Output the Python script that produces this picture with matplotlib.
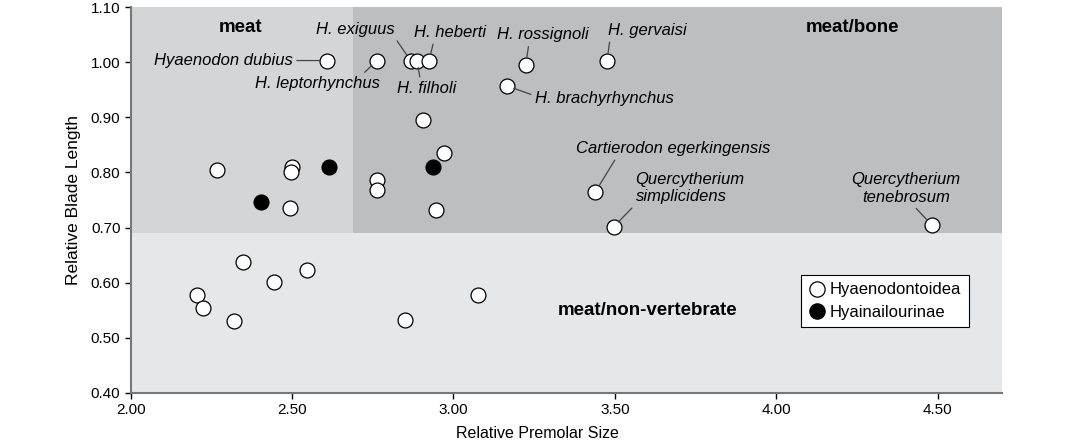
import matplotlib
matplotlib.use("Agg")
import matplotlib.pyplot as plt
from matplotlib.lines import Line2D

plt.rcParams['font.family'] = ['Liberation Sans', 'DejaVu Sans']

# Hyaenodontoidea (open circles)
open_x = [2.607, 2.763, 2.867, 2.887, 2.924, 3.224, 3.476, 3.166, 2.907, 2.971,
          2.763, 2.763, 2.946, 3.440, 3.496, 4.483, 2.268, 2.501, 2.496, 2.494,
          2.206, 2.223, 2.320, 2.347, 2.445, 2.546, 2.851, 3.076]
open_y = [1.003, 1.003, 1.003, 1.003, 1.003, 0.995, 1.003, 0.957, 0.895, 0.835,
          0.786, 0.768, 0.731, 0.765, 0.701, 0.704, 0.805, 0.809, 0.800, 0.735,
          0.578, 0.554, 0.531, 0.637, 0.601, 0.623, 0.533, 0.578]

# Hyainailourinae (filled circles)
filled_x = [2.615, 2.935, 2.404]
filled_y = [0.810, 0.810, 0.746]

# diet zones
premolar_cut = 2.69
blade_cut = 0.69
xlim = (2.0, 4.70)
ylim = (0.40, 1.10)
xticks = [2.0, 2.5, 3.0, 3.5, 4.0, 4.5]
yticks = [0.4, 0.5, 0.6, 0.7, 0.8, 0.9, 1.0, 1.1]

# species labels: text, index into open arrays, offset px (dx, dy), ha, relpos of leader start
labels = [
    ("Hyaenodon dubius", 0, (-34, 0), "right", (1.0, 0.5)),
    ("H. leptorhynchus", 1, (-60, -23), "center", (0.85, 1.0)),
    ("H. exiguus", 2, (-55, 31), "center", (0.98, 0.1)),
    ("H. heberti", 4, (21, 28), "center", (0.28, 0.0)),
    ("H. filholi", 3, (10, -28), "center", (0.39, 1.0)),
    ("H. rossignoli", 5, (17, 30), "center", (0.35, 0.0)),
    ("H. gervaisi", 6, (40, 30), "center", (0.03, 0.0)),
    ("H. brachyrhynchus", 7, (28, -13), "left", (0.0, 0.7)),
    ("Cartierodon egerkingensis", 13, (78, 43), "center", (0.21, 0.0)),
    ("Quercytherium\nsimplicidens", 14, (22, 39), "left", (0.0, 0.0)),
    ("Quercytherium\ntenebrosum", 15, (-26, 37), "center", (0.56, 0.0)),
]

fig = plt.figure(figsize=(10.81, 4.42), dpi=100)
ax = fig.add_axes([0.121, 0.111, 0.806, 0.873])
ax.set_xlim(*xlim)
ax.set_ylim(*ylim)

# shaded zones
ax.fill_between([xlim[0], xlim[1]], ylim[0], blade_cut, color="#e6e7e8", lw=0, zorder=0)
ax.fill_between([xlim[0], premolar_cut], blade_cut, ylim[1], color="#d4d5d7", lw=0, zorder=0)
ax.fill_between([premolar_cut, xlim[1]], blade_cut, ylim[1], color="#bdbec0", lw=0, zorder=0)

ax.scatter(open_x, open_y, s=115, facecolor="white", edgecolor="black", linewidth=0.9, zorder=3)
ax.scatter(filled_x, filled_y, s=115, facecolor="black", edgecolor="black", linewidth=0.9, zorder=3)

for text, i, off, ha, rp in labels:
    ax.annotate(text, xy=(open_x[i], open_y[i]), xytext=off, textcoords="offset pixels",
                ha=ha, va="center", fontsize=12, style="italic", linespacing=1.2,
                arrowprops=dict(arrowstyle="-", color="#444444", lw=0.9, relpos=rp,
                                shrinkA=1, shrinkB=5),
                zorder=4)

ax.text(2.34, 1.063, "meat", ha="center", va="center", fontsize=13.5, fontweight="bold")
ax.text(4.235, 1.063, "meat/bone", ha="center", va="center", fontsize=13.5, fontweight="bold")
ax.text(3.60, 0.55, "meat/non-vertebrate", ha="center", va="center", fontsize=13.5, fontweight="bold")

ax.set_xticks(xticks)
ax.set_xticklabels([f"{v:.2f}" for v in xticks])
ax.set_yticks(yticks)
ax.set_yticklabels([f"{v:.2f}" for v in yticks])
ax.tick_params(labelsize=11, length=4, width=1, color="black", direction="out")

for s in ["top", "right"]:
    ax.spines[s].set_visible(False)
for s in ["left", "bottom"]:
    ax.spines[s].set_color("#777777")
    ax.spines[s].set_linewidth(1.5)

ax.set_xlabel("Relative Premolar Size", fontsize=11.5)
ax.set_ylabel("Relative Blade Length", fontsize=12.5)
ax.xaxis.set_label_coords(0.467, -0.085)
ax.yaxis.set_label_coords(-0.057, 0.5)

handles = [
    Line2D([], [], ls="none", marker="o", markersize=11, markerfacecolor="white",
           markeredgecolor="black", markeredgewidth=0.9),
    Line2D([], [], ls="none", marker="o", markersize=11, markerfacecolor="black",
           markeredgecolor="black", markeredgewidth=0.9),
]
leg = ax.legend(handles, ["Hyaenodontoidea", "Hyainailourinae"], loc="upper left",
                bbox_to_anchor=(0.769, 0.306), fontsize=12, frameon=True, fancybox=False,
                handletextpad=0.3, handlelength=1.0, borderpad=0.45, labelspacing=0.45,
                borderaxespad=0)
leg.get_frame().set_edgecolor("black")
leg.get_frame().set_linewidth(0.8)
leg.get_frame().set_facecolor("white")
leg.get_frame().set_alpha(1)

fig.savefig("out.png", dpi=100)
